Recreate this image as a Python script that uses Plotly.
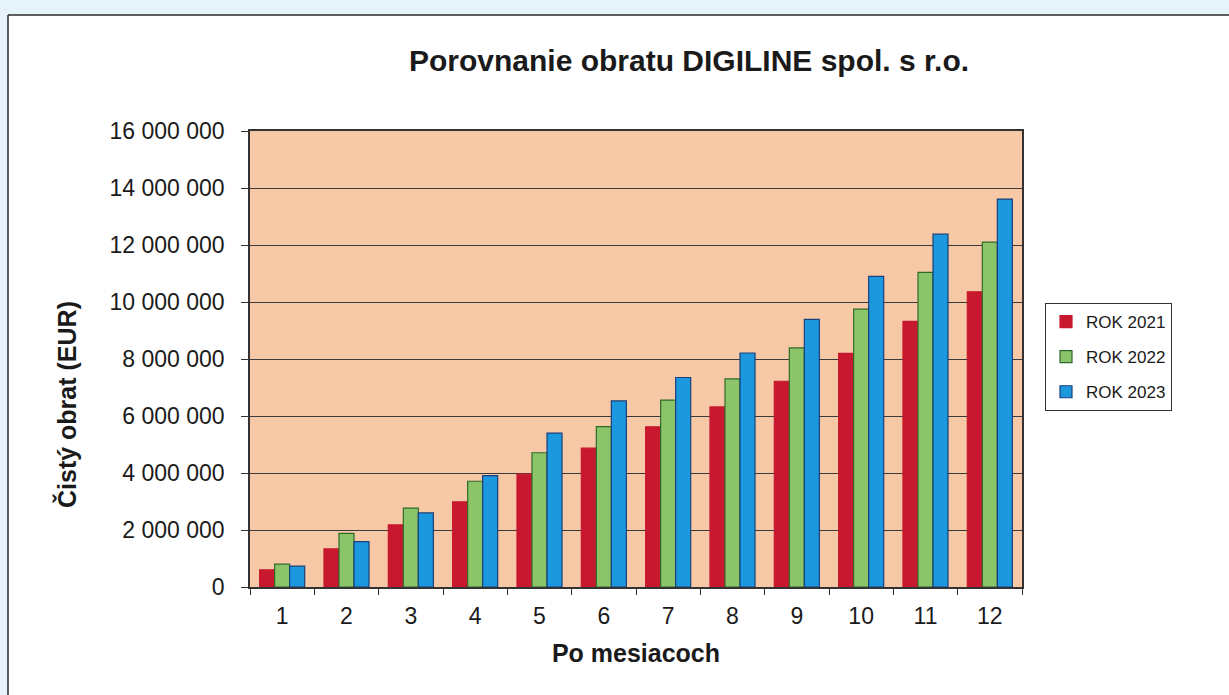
import plotly.graph_objects as go

months = ["1", "2", "3", "4", "5", "6", "7", "8", "9", "10", "11", "12"]
rok_2021 = [600000, 1340000, 2180000, 2990000, 3960000, 4870000, 5620000, 6320000, 7220000, 8200000, 9320000, 10360000]
rok_2022 = [800000, 1880000, 2770000, 3710000, 4710000, 5630000, 6560000, 7300000, 8390000, 9750000, 11040000, 12100000]
rok_2023 = [730000, 1590000, 2600000, 3910000, 5400000, 6530000, 7350000, 8210000, 9390000, 10900000, 12380000, 13610000]
series_names = ["ROK 2021", "ROK 2022", "ROK 2023"]
y_tickvals = [0, 2000000, 4000000, 6000000, 8000000, 10000000, 12000000, 14000000, 16000000]
y_ticktext = ["0", "2 000 000", "4 000 000", "6 000 000", "8 000 000", "10 000 000", "12 000 000", "14 000 000", "16 000 000"]

FONT = "Liberation Sans, Arial, sans-serif"
fills = ["#C8182F", "#8CC46A", "#1C98DE"]
lines = ["#C8182F", "#2E6B2A", "#1B3F7A"]

fig = go.Figure()
for i, (name, vals) in enumerate(zip(series_names, [rok_2021, rok_2022, rok_2023])):
    fig.add_trace(go.Bar(
        x=months, y=vals, name=name, legendgroup=name,
        marker=dict(color=fills[i], line=dict(color=lines[i], width=1.2)),
    ))

L, R, T, B = 250, 1022, 131, 587
W, H = 1229, 695
def px(x):
    return (x - L) / (R - L)
def py(y):
    return (B - y) / (B - T)

fig.update_layout(
    width=W, height=H,
    margin=dict(l=L, r=W - R, t=T, b=H - B),
    paper_bgcolor="white",
    plot_bgcolor="#F7C8A6",
    barmode="group", bargap=0.3, bargroupgap=0.0,
    font=dict(family=FONT, color="#1a1a1a"),
    title=dict(text="<b>Porovnanie obratu DIGILINE spol. s r.o.</b>",
               x=689 / W, xanchor="center", y=1 - 60 / H, yanchor="middle",
               font=dict(size=30, family=FONT, color="#1a1a1a")),
    legend=dict(x=px(1045), y=py(303), xanchor="left", yanchor="top",
                bordercolor="#333333", borderwidth=1, bgcolor="white",
                font=dict(size=17, family=FONT, color="#1a1a1a"),
                tracegroupgap=10, traceorder="grouped", itemwidth=30),
    showlegend=True,
)
fig.update_xaxes(
    type="category", tickson="boundaries", ticks="outside", ticklen=6,
    tickcolor="#333333", showline=True, linecolor="#333333", linewidth=1.5,
    mirror=True, showgrid=False, ticklabelstandoff=8,
    tickfont=dict(size=23, family=FONT, color="#1a1a1a"),
    title=dict(text="<b>Po mesiacoch</b>", font=dict(size=25, family=FONT, color="#1a1a1a"), standoff=16),
)
fig.update_yaxes(
    range=[0, 16000000], tickvals=y_tickvals, ticktext=y_ticktext,
    ticks="outside", ticklen=7, tickcolor="#333333", ticklabelstandoff=12,
    showline=True, linecolor="#333333", linewidth=1.5, mirror=True,
    showgrid=True, gridcolor="#3a3a3a", gridwidth=1,
    tickfont=dict(size=23, family=FONT, color="#1a1a1a"),
    zeroline=False,
)

fig.add_annotation(text="<b>Čistý obrat (EUR)</b>", textangle=-90, showarrow=False,
                   xref="paper", yref="paper", x=px(66), y=py(405),
                   xanchor="center", yanchor="middle",
                   font=dict(size=25, family=FONT, color="#1a1a1a"))

# light blue scan margins and outer frame
fig.add_shape(type="rect", xref="paper", yref="paper", x0=px(0), x1=px(8), y0=py(H), y1=py(0),
              fillcolor="#E6F3FB", line=dict(width=0), layer="below")
fig.add_shape(type="rect", xref="paper", yref="paper", x0=px(0), x1=px(W), y0=py(15), y1=py(0),
              fillcolor="#E6F3FB", line=dict(width=0), layer="below")
fig.add_shape(type="line", xref="paper", yref="paper", x0=px(8), x1=px(W), y0=py(15), y1=py(15),
              line=dict(color="#2a2a2a", width=1.5))
fig.add_shape(type="line", xref="paper", yref="paper", x0=px(8), x1=px(8), y0=py(15), y1=py(H),
              line=dict(color="#2a2a2a", width=1.5))

fig.write_html("out.html", config={"displayModeBar": False},
               post_script="document.body.style.margin='0';")
